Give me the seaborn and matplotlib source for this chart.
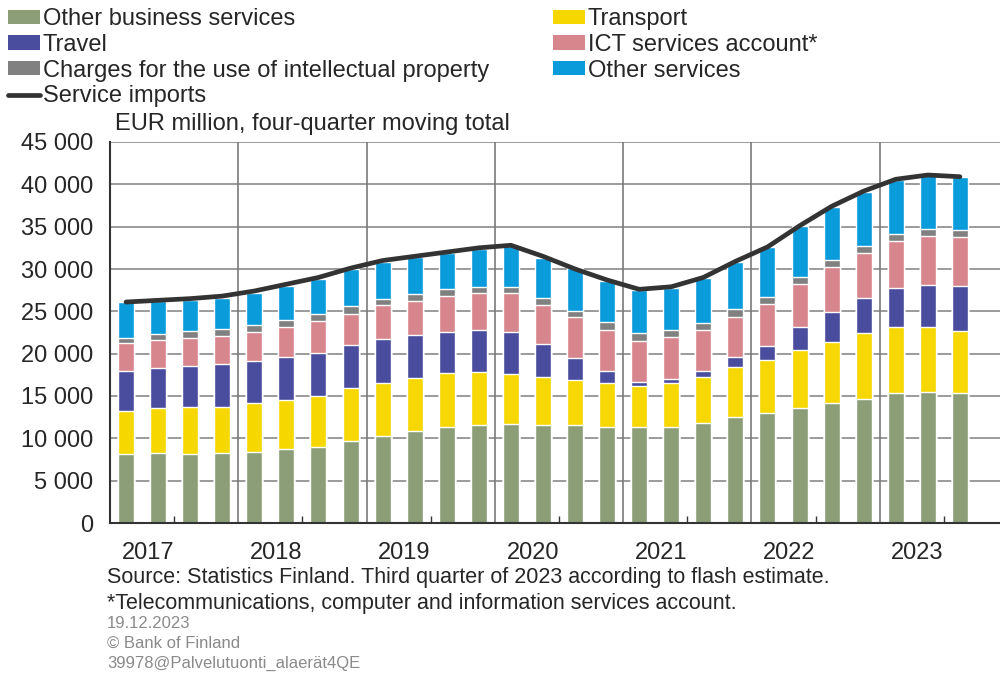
import numpy as np
import pandas as pd
import seaborn as sns
import matplotlib.pyplot as plt
from matplotlib.patches import Patch
from matplotlib.lines import Line2D

# Quarters 2017Q1 .. 2023Q3, EUR million, four-quarter moving total
quarters = [f"{y}Q{q}" for y in range(2017, 2024) for q in range(1, 5)][:27]
years = ["2017", "2018", "2019", "2020", "2021", "2022", "2023"]

other_business = [8110, 8230, 8150, 8230, 8430, 8700, 8980, 9650, 10320, 10900, 11300, 11580, 11650, 11580,
                  11580, 11380, 11300, 11380, 11770, 12560, 12950, 13620, 14210, 14650, 15320, 15430, 15320]
transport = [5160, 5310, 5510, 5510, 5700, 5830, 6060, 6260, 6260, 6270, 6380, 6220, 5950, 5630,
             5310, 5120, 4880, 5150, 5430, 5830, 6300, 6810, 7210, 7750, 7790, 7680, 7400]
travel = [4720, 4810, 4840, 5000, 5000, 5120, 5080, 5070, 5150, 5030, 4920, 5000, 5000, 3890,
          2640, 1490, 510, 520, 790, 1180, 1700, 2680, 3540, 4210, 4610, 5000, 5270]
ict = [3230, 3260, 3390, 3390, 3470, 3540, 3740, 3710, 3980, 4060, 4250, 4330, 4530, 4650,
       4760, 4810, 4850, 4860, 4810, 4800, 4920, 5120, 5240, 5320, 5630, 5790, 5750]
charges_ip = [670, 710, 790, 740, 790, 790, 790, 900, 790, 750, 750, 780, 780, 790,
              790, 900, 940, 890, 780, 910, 860, 860, 860, 790, 780, 790, 870]
other_services = [4170, 3880, 3660, 3740, 3810, 4010, 4170, 4370, 4300, 4370, 4330, 4450, 4790, 4800,
                  5000, 4880, 5040, 5000, 5320, 5590, 5830, 5990, 6300, 6410, 6380, 6410, 6300]
service_imports = [26100, 26300, 26500, 26800, 27400, 28200, 29000, 30100, 31000, 31500, 32000, 32500, 32800, 31500,
                   30000, 28700, 27600, 27900, 29000, 30900, 32600, 35100, 37400, 39200, 40600, 41100, 40900]

series = [
    ("Other business services", other_business, "#8c9e78"),
    ("Transport", transport, "#f6d800"),
    ("Travel", travel, "#4a4c9e"),
    ("ICT services account*", ict, "#d8868d"),
    ("Charges for the use of intellectual property", charges_ip, "#808080"),
    ("Other services", other_services, "#0a9bdb"),
]

sns.set_theme(style="white")
plt.rcParams["font.family"] = ["Liberation Sans", "DejaVu Sans"]

fig = plt.figure(figsize=(10, 6.74), dpi=100)
ax = fig.add_axes([0.11, 1 - 523 / 674, 0.89, 381 / 674])

# stacked bars: draw cumulative totals from the top layer down
cum = np.cumsum(np.array([s[1] for s in series]), axis=0)
for (name, vals, color), top in reversed(list(zip(series, cum))):
    df = pd.DataFrame({"quarter": quarters, "value": top})
    sns.barplot(data=df, x="quarter", y="value", color=color, width=0.5,
                saturation=1, ax=ax, zorder=2)

sns.lineplot(x=np.arange(len(quarters)), y=service_imports, color="#333333",
             linewidth=3.4, ax=ax, zorder=3)

ax.set_xlim(-0.5, 27.25)
ax.set_ylim(0, 45000)
ax.set_yticks(range(0, 45001, 5000))
ax.set_yticklabels([f"{v:,}".replace(",", " ") for v in range(0, 45001, 5000)], fontsize=17)
ax.yaxis.grid(True, color="#8a8a8a", linewidth=1.2, zorder=0)
ax.set_axisbelow(True)
for k in range(1, 7):
    ax.axvline(4 * k - 0.5, color="#7a7a7a", linewidth=1.2, zorder=1)

# inward tick marks mid-year, year labels right-aligned on them
tick_pos = [4 * k + 1.5 for k in range(7)]
ax.set_xticks(tick_pos)
ax.set_xticklabels([])
ax.tick_params(axis="x", direction="in", length=5, width=1, color="#333333", bottom=True)
ax.tick_params(axis="y", length=0, pad=12)
for pos, yr in zip(tick_pos, years):
    ax.text(pos, -2300, yr, ha="right", va="top", fontsize=17,
            transform=ax.transData, clip_on=False)
ax.set_xlabel("")
ax.set_ylabel("")

for side in ["top", "right"]:
    ax.spines[side].set_visible(False)
for side in ["left", "bottom"]:
    ax.spines[side].set_color("#333333")
    ax.spines[side].set_linewidth(1.5)

# legends
h = {name: Patch(facecolor=color, edgecolor="none") for name, _, color in series}
line_h = Line2D([0], [0], color="#333333", linewidth=3.4)
col1 = ["Other business services", "Travel", "Charges for the use of intellectual property"]
col2 = ["Transport", "ICT services account*", "Other services"]
leg_kw = dict(loc="upper left", frameon=False, fontsize=17, handlelength=1.35, handleheight=0.55,
              handletextpad=0.12, labelspacing=0.16, borderpad=0, borderaxespad=0)
fig.legend([h[n] for n in col1] + [line_h], col1 + ["Service imports"],
           bbox_to_anchor=(0.008, 0.988), **leg_kw)
fig.legend([h[n] for n in col2], col2, bbox_to_anchor=(0.553, 0.988), **leg_kw)

fig.text(0.115, 1 - 124 / 674, "EUR million, four-quarter moving total", fontsize=17, va="center")

narrow = ["Liberation Sans Narrow", "Liberation Sans", "DejaVu Sans"]
fig.text(0.107, 1 - 578 / 674, "Source: Statistics Finland. Third quarter of 2023 according to flash estimate.",
         fontsize=15.5, va="center", family=narrow)
fig.text(0.107, 1 - 603 / 674, "*Telecommunications, computer and information services account.",
         fontsize=15.5, va="center", family=narrow)
for i, s in enumerate(["19.12.2023", "© Bank of Finland", "39978@Palvelutuonti_alaerät4QE"]):
    fig.text(0.107, 1 - (623 + 20 * i) / 674, s, fontsize=12, va="center", color="#8a8a8a", family=narrow)

fig.savefig("out.png", dpi=100)
